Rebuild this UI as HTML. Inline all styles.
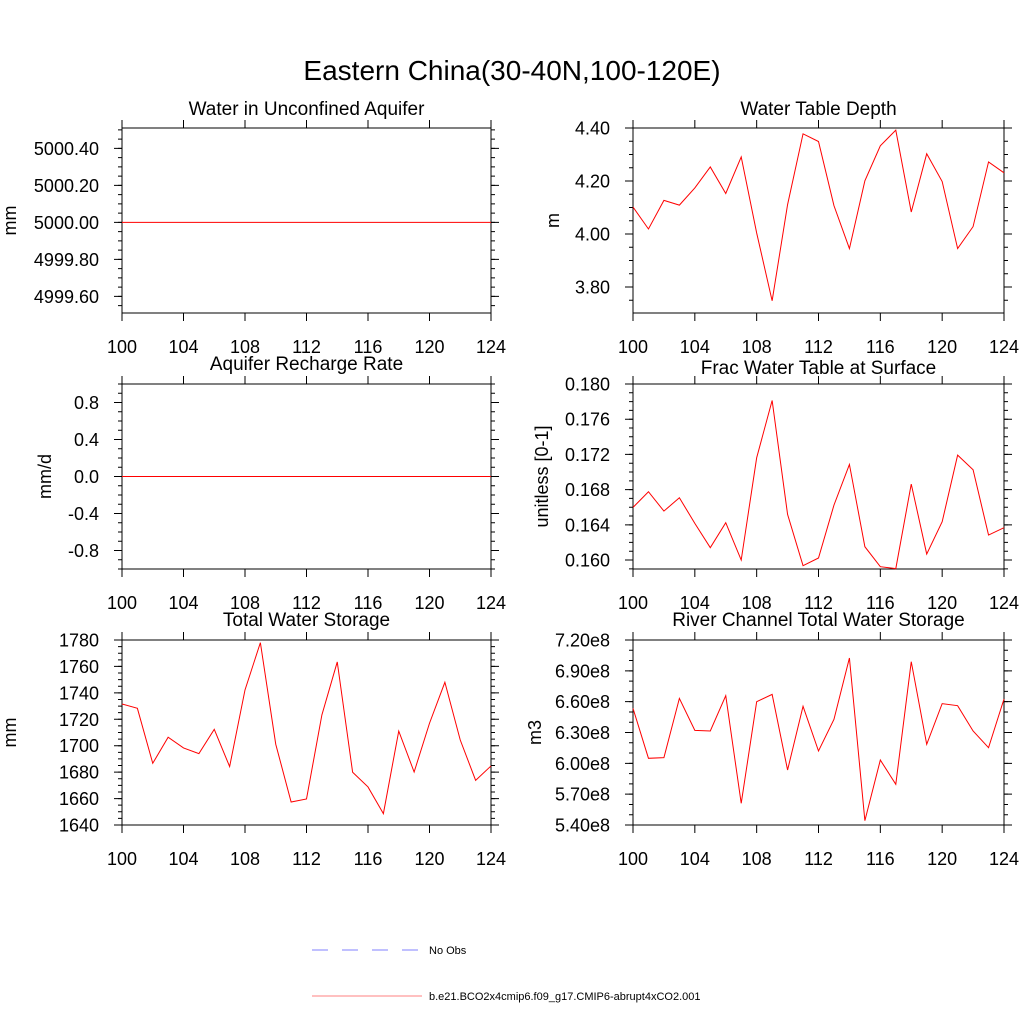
<!DOCTYPE html>
<html><head><meta charset="utf-8"><style>
body{margin:0;background:#fff}
svg{display:block;font-family:"Liberation Sans",Arial,sans-serif}
</style></head><body>
<svg id="c" width="1024" height="1024" viewBox="0 0 1024 1024">
<text x="512" y="80" font-size="28" text-anchor="middle">Eastern China(30-40N,100-120E)</text>
<g>
<line x1="312" y1="950" x2="418" y2="950" stroke="#8080ff" stroke-width="1" stroke-dasharray="16,14"/>
<text x="429" y="954" font-size="11">No Obs</text>
<line x1="312" y1="996" x2="422" y2="996" stroke="#ff8080" stroke-width="1"/>
<text x="429" y="1000" font-size="11">b.e21.BCO2x4cmip6.f09_g17.CMIP6-abrupt4xCO2.001</text>
</g>
</svg>
<script>
const years = [100,101,102,103,104,105,106,107,108,109,110,111,112,113,114,115,116,117,118,119,120,121,122,123,124];
const xTicks = [100,104,108,112,116,120,124];
const aquiferVals = [5000,5000,5000,5000,5000,5000,5000,5000,5000,5000,5000,5000,5000,5000,5000,5000,5000,5000,5000,5000,5000,5000,5000,5000,5000];
const aquiferTicks = [4999.6,4999.8,5000.0,5000.2,5000.4];
const aquiferLabels = ["4999.60","4999.80","5000.00","5000.20","5000.40"];
const wtdVals = [4.102,4.019,4.127,4.109,4.174,4.253,4.153,4.291,4.004,3.748,4.111,4.378,4.349,4.107,3.945,4.201,4.333,4.392,4.083,4.303,4.198,3.945,4.028,4.272,4.231];
const wtdTicks = [3.8,4.0,4.2,4.4];
const wtdLabels = ["3.80","4.00","4.20","4.40"];
const rechargeVals = [0,0,0,0,0,0,0,0,0,0,0,0,0,0,0,0,0,0,0,0,0,0,0,0,0];
const rechargeTicks = [-0.8,-0.4,0,0.4,0.8];
const rechargeLabels = ["-0.8","-0.4","0.0","0.4","0.8"];
const fracVals = [0.16598,0.16776,0.16556,0.16708,0.16416,0.16140,0.16424,0.1600,0.17162,0.17813,0.16518,0.15936,0.16023,0.16624,0.17086,0.16151,0.15924,0.15902,0.16863,0.16068,0.16435,0.17192,0.17025,0.16284,0.16367];
const fracTicks = [0.160,0.164,0.168,0.172,0.176,0.180];
const fracLabels = ["0.160","0.164","0.168","0.172","0.176","0.180"];
const twsVals = [1731.6,1728.3,1686.7,1706.4,1698.3,1694.0,1712.4,1684.2,1742.2,1778.0,1701.1,1657.4,1659.7,1723.3,1763.4,1679.9,1668.8,1648.6,1711.1,1680.1,1717.0,1748.0,1704.3,1673.8,1684.7];
const twsTicks = [1640,1660,1680,1700,1720,1740,1760,1780];
const twsLabels = ["1640","1660","1680","1700","1720","1740","1760","1780"];
const riverVals = [6.535,6.049,6.055,6.632,6.321,6.315,6.658,5.611,6.600,6.671,5.935,6.555,6.120,6.428,7.025,5.442,6.032,5.796,6.989,6.185,6.581,6.561,6.315,6.152,6.626];
const riverTicks = [5.4,5.7,6.0,6.3,6.6,6.9,7.2];
const riverLabels = ["5.40e8","5.70e8","6.00e8","6.30e8","6.60e8","6.90e8","7.20e8"];

const NS='http://www.w3.org/2000/svg';
const svg=document.getElementById('c');
function mk(tag,attrs,parent){const e=document.createElementNS(NS,tag);for(const k in attrs)e.setAttribute(k,attrs[k]);(parent||svg).appendChild(e);return e;}

const panels=[
 {key:'aquifer',title:'Water in Unconfined Aquifer',ytitle:'mm',x0:122,x1:491,y0:128,y1:313,ymin:4999.51,ymax:5000.51,vals:aquiferVals,ticks:aquiferTicks,labels:aquiferLabels,minor:0.05,tty:115,ytx:11},
 {key:'water-table',title:'Water Table Depth',ytitle:'m',x0:633,x1:1004,y0:128,y1:313,ymin:3.702,ymax:4.40,vals:wtdVals,ticks:wtdTicks,labels:wtdLabels,minor:0.05,tty:115,ytx:554},
 {key:'recharge',title:'Aquifer Recharge Rate',ytitle:'mm/d',x0:122,x1:491,y0:384,y1:569,ymin:-1,ymax:1,vals:rechargeVals,ticks:rechargeTicks,labels:rechargeLabels,minor:0.1,tty:370,ytx:46},
 {key:'frac-water',title:'Frac Water Table at Surface',ytitle:'unitless [0-1]',x0:633,x1:1004,y0:384,y1:569,ymin:0.15898,ymax:0.180,vals:fracVals,ticks:fracTicks,labels:fracLabels,minor:0.001,tty:374,ytx:543},
 {key:'total-storage',title:'Total Water Storage',ytitle:'mm',x0:122,x1:491,y0:640,y1:825,ymin:1640,ymax:1780,vals:twsVals,ticks:twsTicks,labels:twsLabels,minor:5,tty:626,ytx:11},
 {key:'river-storage',title:'River Channel Total Water Storage',ytitle:'m3',x0:633,x1:1004,y0:640,y1:825,ymin:5.4,ymax:7.2,vals:riverVals,ticks:riverTicks,labels:riverLabels,minor:0.1,tty:626,ytx:536}
];

panels.forEach(p=>{
  const g=mk('g',{});
  
  
  const sx=v=>p.x0+(v-100)/24*(p.x1-p.x0);
  const sy=v=>p.y1-(v-p.ymin)/(p.ymax-p.ymin)*(p.y1-p.y0);
  const t=mk('text',{x:(p.x0+p.x1)/2,y:p.tty,'font-size':19,'text-anchor':'middle'},g);
  t.textContent=p.title;
  
  
  const cy=(p.y0+p.y1)/2;
  const yt=mk('text',{x:p.ytx,y:cy,'font-size':18,'text-anchor':'middle',transform:`rotate(-90 ${p.ytx} ${cy})`,'dominant-baseline':'middle'},g);
  yt.textContent=p.ytitle;
  
  
  const start=Math.ceil(p.ymin/p.minor-1e-6);
  for(let i=start;i*p.minor<=p.ymax+1e-9;i++){
    const y=sy(i*p.minor);
    const tl=mk('path',{d:`M${p.x0-4} ${y}H${p.x0}M${p.x1} ${y}H${p.x1+4}`,stroke:'#000','stroke-width':1},g);
    
    
  }
  p.ticks.forEach((v,i)=>{
    const y=sy(v);
    const tl=mk('path',{d:`M${p.x0-8} ${y}H${p.x0}M${p.x1} ${y}H${p.x1+8}`,stroke:'#000','stroke-width':1},g);
    
    
    const lb=mk('text',{x:p.x0-23,y:y+6.5,'font-size':18,'text-anchor':'end'},g);
    lb.textContent=p.labels[i];
    
    
  });
  xTicks.forEach(v=>{
    const x=sx(v);
    const tl=mk('path',{d:`M${x} ${p.y1}V${p.y1+8}M${x} ${p.y0}V${p.y0-8}`,stroke:'#000','stroke-width':1},g);
    
    
    const lb=mk('text',{x:x,y:p.y1+40,'font-size':18,'text-anchor':'middle'},g);
    lb.textContent=String(v);
    
    
  });
  const fr=mk('rect',{x:p.x0,y:p.y0,width:p.x1-p.x0,height:p.y1-p.y0,fill:'none',stroke:'#000','stroke-width':1},g);
  
  
  const d=p.vals.map((v,i)=>(i?'L':'M')+sx(years[i]).toFixed(2)+' '+sy(v).toFixed(2)).join('');
  const ln=mk('path',{d:d,fill:'none',stroke:'#ff0000','stroke-width':1},g);
  
  
});
</script>
</body></html>
